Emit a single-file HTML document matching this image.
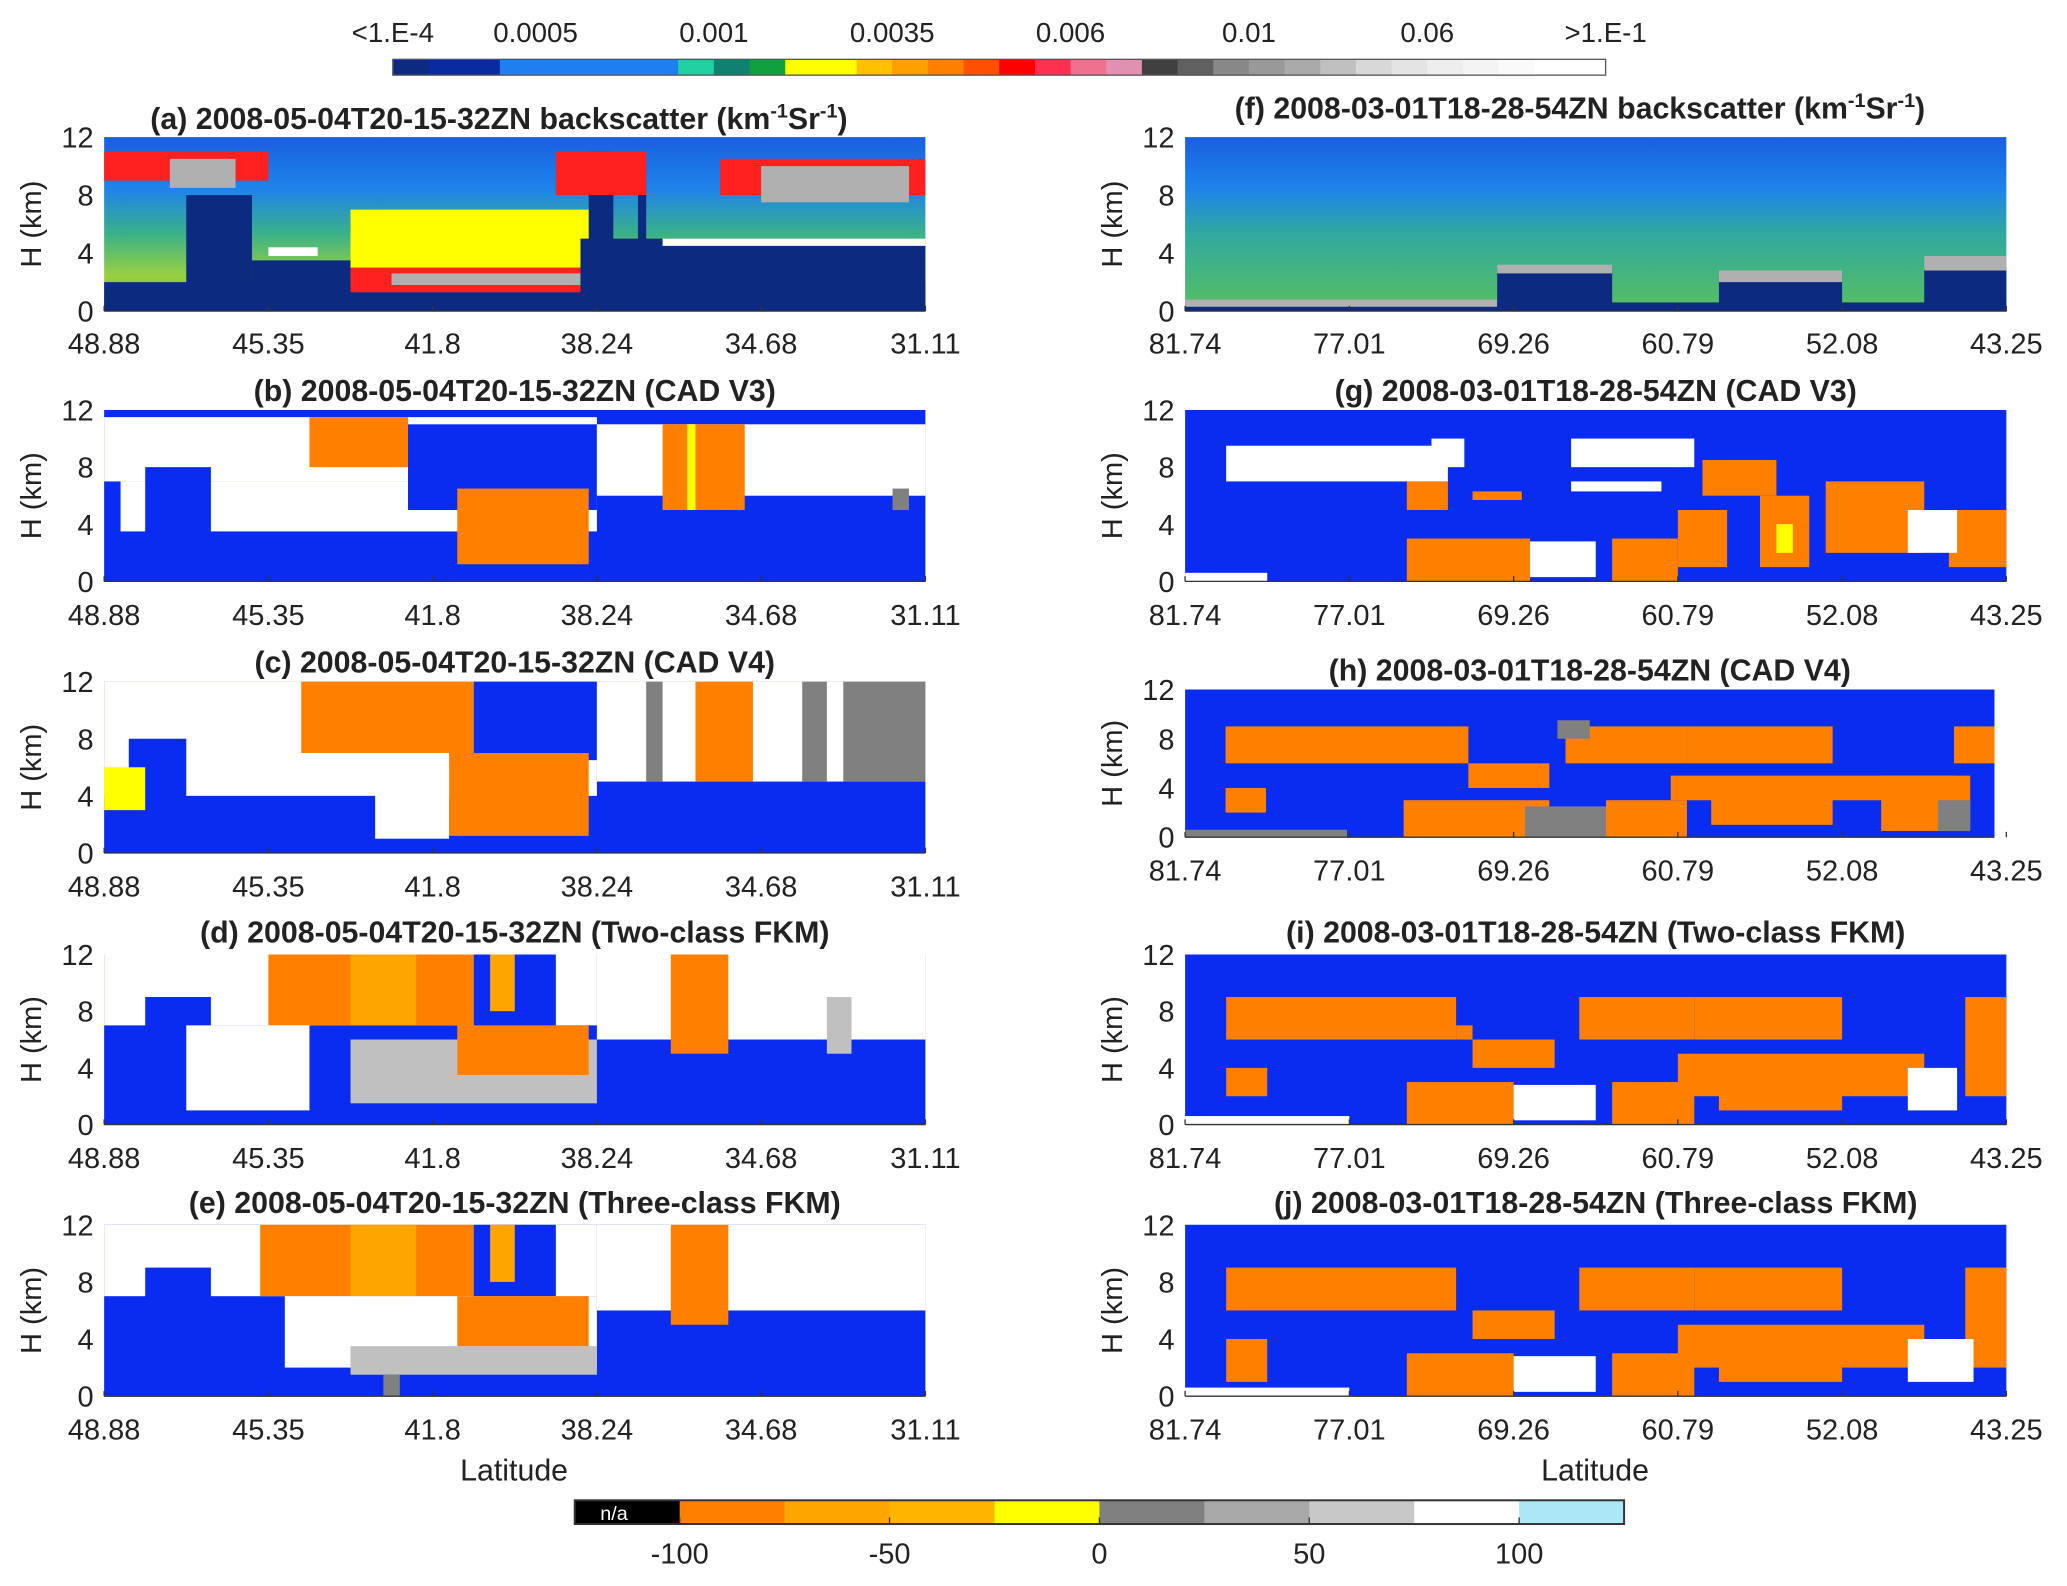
<!DOCTYPE html>
<html><head><meta charset="utf-8"><style>
html,body{margin:0;padding:0;background:#fff}
svg{display:block}
text{font-family:"Liberation Sans",Arial,sans-serif;fill:#222}
</style></head><body>
<svg id="fig" width="2067" height="1586" viewBox="0 0 1568 1203" preserveAspectRatio="none" xmlns="http://www.w3.org/2000/svg">
<defs>
<linearGradient id="gA" x1="0" y1="0" x2="0" y2="1"><stop offset="0" stop-color="#1a5fe0"/><stop offset="0.3" stop-color="#1e84ea"/><stop offset="0.55" stop-color="#38b08a"/><stop offset="0.8" stop-color="#9ad040"/><stop offset="1" stop-color="#60b050"/></linearGradient>
<linearGradient id="gF" x1="0" y1="0" x2="0" y2="1"><stop offset="0" stop-color="#1a5fe0"/><stop offset="0.3" stop-color="#1e84ea"/><stop offset="0.55" stop-color="#30a8a0"/><stop offset="1" stop-color="#58c060"/></linearGradient>
</defs>
<g id="root"></g>
</svg>
<script>
// ---- data ----
const topCbLabels=["<1.E-4","0.0005","0.001","0.0035","0.006","0.01","0.06",">1.E-1"];
const topCbTickBins=[0,4,9,14,19,24,29,34];
const topCbColors=["#0c2a80","#0a2aa0","#0a2aa0","#1e7ff0","#1e7ff0","#1e7ff0","#1e7ff0","#1e7ff0","#20d0a0","#108070","#10a040","#ffff00","#ffff00","#ffc000","#ffa000","#ff8000","#ff5000","#ff0000","#ff3050","#f07090","#e090b0","#404040","#606060","#888888","#999999","#aaaaaa","#c0c0c0","#d8d8d8","#e4e4e4","#eeeeee","#f4f4f4","#fafafa","#ffffff","#ffffff"];
const botCbLabels=["-100","-50","0","50","100"];
const botCbColors=["#000000","#ff8000","#ffa500","#ffb400","#ffff00","#808080","#a8a8a8","#c8c8c8","#ffffff","#aae8f8"];
const leftTicks=["48.88","45.35","41.8","38.24","34.68","31.11"];
const rightTicks=["81.74","77.01","69.26","60.79","52.08","43.25"];
const hTicks=[0,4,8,12];
const C={B:"#0a2cf0",O:"#ff8000",G:"#ffa500",Y:"#ffff00",D:"#808080",L:"#c0c0c0",W:"#ffffff",N:"#0c2a80",R:"#ff2020",S:"#b0b0b0"};
// regions: [x0 frac, x1 frac, hBottom km, hTop km, class]
const regA=[[0,1,0,2,"N"],[0.1,0.18,0,8,"N"],[0.18,0.3,0,3.5,"N"],[0.3,0.6,3,7,"Y"],[0.3,0.58,1.3,3,"R"],[0.35,0.58,1.8,2.6,"S"],[0.58,1,0,5,"N"],[0.59,0.62,4,11,"N"],[0.65,0.66,4,9,"N"],[0.0,0.2,9,11,"R"],[0.08,0.16,8.5,10.5,"S"],[0.55,0.66,8,11,"R"],[0.75,1,8,10.5,"R"],[0.8,0.98,7.5,10,"S"],[0.68,1,4.5,5,"W"],[0.2,0.26,3.8,4.4,"W"]];
const regF=[[0,1,0,0.6,"N"],[0,0.38,0.3,0.8,"S"],[0.38,0.52,0,3,"N"],[0.38,0.52,2.6,3.2,"S"],[0.65,0.8,0,2.5,"N"],[0.65,0.8,2,2.8,"S"],[0.9,1,0,3,"N"],[0.9,1,2.8,3.8,"S"]];
const regB=[[0,0.6,7,11.5,"W"],[0.02,0.6,3.5,7,"W"],[0.05,0.13,0,8,"B"],[0.37,0.6,5,11,"B"],[0.25,0.37,8,11.5,"O"],[0.43,0.59,1.2,6.5,"O"],[0.6,1,6,11,"W"],[0.68,0.78,5,11,"O"],[0.71,0.72,5,11,"Y"],[0.96,0.98,5,6.5,"D"]];
const regC=[[0,0.6,4,12,"W"],[0.03,0.1,0,8,"B"],[0.24,0.45,7,12,"O"],[0.45,0.6,6.5,12,"B"],[0.42,0.59,1.2,7,"O"],[0.33,0.42,1,6,"W"],[0.6,1,5,12,"W"],[0.66,0.68,5,12,"D"],[0.72,0.79,5,12,"O"],[0.85,0.88,5,12,"D"],[0.9,1,5,12,"D"],[0,0.05,3,6,"Y"]];
const regD=[[0,0.6,7,12,"W"],[0.05,0.13,0,9,"B"],[0.2,0.45,7,12,"O"],[0.3,0.38,7,12,"G"],[0.45,0.55,6,12,"B"],[0.47,0.5,8,12,"G"],[0.3,0.6,1.5,6,"L"],[0.43,0.59,3.5,7,"O"],[0.6,1,6,12,"W"],[0.69,0.76,5,12,"O"],[0.88,0.91,5,9,"L"],[0.1,0.25,1,7,"W"]];
const regE=[[0,0.6,7,12,"W"],[0.05,0.13,0,9,"B"],[0.19,0.45,7,12,"O"],[0.3,0.38,7,12,"G"],[0.45,0.55,6,12,"B"],[0.47,0.5,8,12,"G"],[0.22,0.6,2,7,"W"],[0.3,0.6,1.5,3.5,"L"],[0.43,0.59,3.5,7,"O"],[0.6,1,6,12,"W"],[0.69,0.76,5,12,"O"],[0.34,0.36,0,1.5,"D"]];
const regG=[[0.05,0.32,7,9.5,"W"],[0.3,0.34,8,10,"W"],[0.47,0.62,8,10,"W"],[0.47,0.58,6.3,7,"W"],[0.35,0.41,5.7,6.3,"O"],[0.27,0.32,5,7,"O"],[0.63,0.72,6,8.5,"O"],[0.28,0.5,0.3,2.8,"W"],[0.27,0.42,0,3,"O"],[0.52,0.6,0,3,"O"],[0.6,0.66,1,5,"O"],[0.7,0.76,1,6,"O"],[0.78,0.9,2,7,"O"],[0.93,1,1,5,"O"],[0.88,0.94,2,5,"W"],[0,0.1,0,0.6,"W"],[0.72,0.74,2,4,"Y"]];
const regH=[[0.05,0.35,6,9,"O"],[0.35,0.45,4,6,"O"],[0.47,0.62,6,9,"O"],[0.62,0.8,6,9,"O"],[0.6,0.95,3,5,"O"],[0.95,1,6,9,"O"],[0.05,0.1,2,4,"O"],[0.27,0.45,0,3,"O"],[0.42,0.52,0,2.5,"D"],[0.52,0.62,0,3,"O"],[0.65,0.8,1,4,"O"],[0.86,0.97,0.5,5,"O"],[0.93,0.97,0.5,3,"D"],[0,0.2,0,0.6,"D"],[0.46,0.5,8,9.5,"D"]];
const regI=[[0.05,0.33,6,9,"O"],[0.33,0.35,6,7,"O"],[0.35,0.45,4,6,"O"],[0.48,0.62,6,9,"O"],[0.62,0.8,6,9,"O"],[0.6,0.9,2,5,"O"],[0.95,1,2,9,"O"],[0.05,0.1,2,4,"O"],[0.27,0.4,0,3,"O"],[0.4,0.5,0.3,2.8,"W"],[0.52,0.62,0,3,"O"],[0.65,0.8,1,4,"O"],[0.88,0.94,1,4,"W"],[0,0.2,0,0.6,"W"]];
const regJ=[[0.05,0.33,6,9,"O"],[0.35,0.45,4,6,"O"],[0.48,0.62,6,9,"O"],[0.62,0.8,6,9,"O"],[0.6,0.9,2,5,"O"],[0.95,1,2,9,"O"],[0.05,0.1,1,4,"O"],[0.27,0.4,0,3,"O"],[0.4,0.5,0.3,2.8,"W"],[0.52,0.62,0,3,"O"],[0.65,0.8,1,4,"O"],[0.88,0.96,1,4,"W"],[0,0.2,0,0.6,"W"]];
const panels=[
 {id:"a",t:"(a) 2008-05-04T20-15-32ZN backscatter (km",sup:true,x:79,y:104,w:623,h:132,ty:90,tk:leftTicks,ly:260,bg:"url(#gA)",r:regA},
 {id:"b",t:"(b) 2008-05-04T20-15-32ZN (CAD V3)",x:79,y:311,w:623,h:130,ty:296,tk:leftTicks,ly:466,bg:C.B,r:regB},
 {id:"c",t:"(c) 2008-05-04T20-15-32ZN (CAD V4)",x:79,y:517,w:623,h:130,ty:502,tk:leftTicks,ly:672,bg:C.B,r:regC},
 {id:"d",t:"(d) 2008-05-04T20-15-32ZN (Two-class FKM)",x:79,y:724,w:623,h:129,ty:707,tk:leftTicks,ly:878,bg:C.B,r:regD},
 {id:"e",t:"(e) 2008-05-04T20-15-32ZN (Three-class FKM)",x:79,y:929,w:623,h:130,ty:912,tk:leftTicks,ly:1084,bg:C.B,r:regE},
 {id:"f",t:"(f) 2008-03-01T18-28-54ZN backscatter (km",sup:true,x:899,y:104,w:623,h:132,ty:82,tk:rightTicks,ly:260,bg:"url(#gF)",r:regF},
 {id:"g",t:"(g) 2008-03-01T18-28-54ZN (CAD V3)",x:899,y:311,w:623,h:130,ty:296,tk:rightTicks,ly:466,bg:C.B,r:regG},
 {id:"h",t:"(h) 2008-03-01T18-28-54ZN (CAD V4)",x:899,y:523,w:614,h:112,ty:508,tk:rightTicks,ly:660,bg:C.B,r:regH},
 {id:"i",t:"(i) 2008-03-01T18-28-54ZN (Two-class FKM)",x:899,y:724,w:623,h:129,ty:707,tk:rightTicks,ly:878,bg:C.B,r:regI},
 {id:"j",t:"(j) 2008-03-01T18-28-54ZN (Three-class FKM)",x:899,y:929,w:623,h:130,ty:912,tk:rightTicks,ly:1084,bg:C.B,r:regJ}
];
// ---- drawing ----
const NS="http://www.w3.org/2000/svg";
const root=document.getElementById("root");
function mk(tag,attrs,parent,txt){const e=document.createElementNS(NS,tag);for(const k in attrs)e.setAttribute(k,attrs[k]);if(txt!==undefined)e.textContent=txt;(parent||root).appendChild(e);return e;}
// top colorbar
const tcb=mk("g",{});


const tx0=298,tx1=1218,tw=(tx1-tx0)/topCbColors.length;
topCbColors.forEach((c,i)=>{mk("rect",{x:tx0+i*tw,y:45,width:tw+0.5,height:12,fill:c},tcb);});
mk("rect",{x:tx0,y:45,width:tx1-tx0,height:12,fill:"none",stroke:"#555","stroke-width":1},tcb);
topCbLabels.forEach((l,i)=>{const t=mk("text",{x:tx0+topCbTickBins[i]*tw,y:32,"font-size":21,"text-anchor":"middle"},tcb,l);

});
// panels
panels.forEach(p=>{
 const g=mk("g",{});
 
 
 const xs=f=>p.x+f*p.w, ys=h=>p.y+p.h*(1-h/12);
 mk("rect",{x:p.x,y:p.y,width:p.w,height:p.h,fill:p.bg},g);
 p.r.forEach(r=>{const m=mk("rect",{x:xs(r[0]),y:ys(r[3]),width:xs(r[1])-xs(r[0]),height:ys(r[2])-ys(r[3]),fill:C[r[4]]},g);
  
  });
 mk("line",{x1:p.x,y1:p.y+p.h,x2:p.x+p.w,y2:p.y+p.h,stroke:"#333","stroke-width":1},g);
 const title=mk("text",{x:p.x+p.w/2-(p.sup?12:0),y:p.ty+8,"font-size":23,"font-weight":"bold","text-anchor":"middle"},g);
 
 
 title.appendChild(document.createTextNode(p.t));
 if(p.sup){mk("tspan",{dy:-9,"font-size":15},title,"-1");mk("tspan",{dy:9},title,"Sr");mk("tspan",{dy:-9,"font-size":15},title,"-1");mk("tspan",{dy:9},title,")");}
 hTicks.forEach(h=>{const t=mk("text",{x:p.x-8,y:ys(h)+8,"font-size":22,"text-anchor":"end"},g,String(h));
  
  });
 const yl=mk("text",{x:0,y:0,"font-size":22,"text-anchor":"middle",transform:`translate(${p.x-48},${p.y+p.h/2}) rotate(-90)`},g,"H (km)");
 
 
 const tw2=p.id==="h"?623:p.w;
 p.tk.forEach((l,i)=>{const xx=p.x+i*tw2/(p.tk.length-1);
  mk("line",{x1:xx,y1:p.y+p.h,x2:xx,y2:p.y+p.h-4,stroke:"#333"},g);
  const t=mk("text",{x:xx,y:p.ly+8,"font-size":22,"text-anchor":"middle"},g,l);
  
  });
});
[390,1210].forEach(x=>{const t=mk("text",{x:x,y:1123,"font-size":23,"text-anchor":"middle"},root,"Latitude");
 
 });
// bottom colorbar
const bcb=mk("g",{});


const bx0=436,bx1=1232,bw=(bx1-bx0)/botCbColors.length;
botCbColors.forEach((c,i)=>{mk("rect",{x:bx0+i*bw,y:1138,width:bw+0.5,height:18,fill:c},bcb);});
mk("rect",{x:bx0,y:1138,width:bx1-bx0,height:18,fill:"none",stroke:"#333","stroke-width":1.5},bcb);
mk("text",{x:bx0+bw/2-10,y:1153,"font-size":15,"text-anchor":"middle",style:"fill:#fff"},bcb,"n/a");
botCbLabels.forEach((l,i)=>{const xx=bx0+bw+i*2*bw;
 mk("line",{x1:xx,y1:1156,x2:xx,y2:1151,stroke:"#333"},bcb);
 const t=mk("text",{x:xx,y:1186,"font-size":22,"text-anchor":"middle"},bcb,l);
 
 });
</script>
</body></html>
